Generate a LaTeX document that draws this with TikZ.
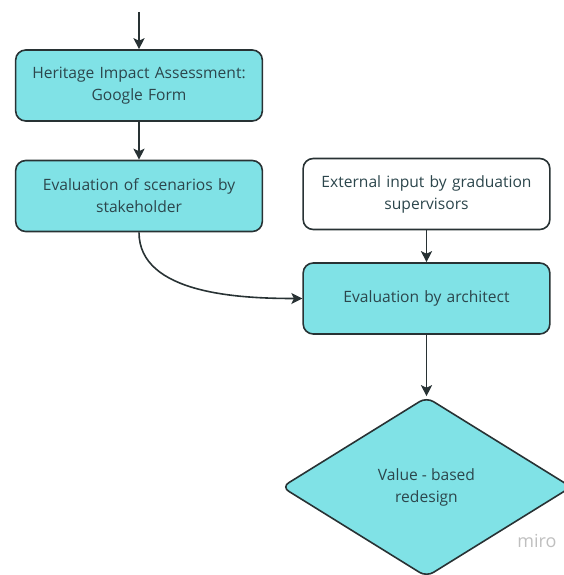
\documentclass[tikz,border=0pt]{standalone}
\usepackage{fontspec}
\setmainfont{Open Sans}
\usetikzlibrary{shapes.geometric,arrows.meta}
\definecolor{boxfill}{RGB}{128,226,230}
\definecolor{boxline}{RGB}{40,50,52}
\definecolor{boxtext}{RGB}{44,70,76}
\tikzset{
    flowbox/.style={draw=boxline, line width=1.6pt, rounded corners=10pt,
        minimum width=246pt, minimum height=71pt, text width=240pt, align=center,
        text=boxtext, font=\fontsize{15.6pt}{22pt}\selectfont},
    flowarrow/.style={draw=boxline, line width=1.6pt, -{Stealth[length=11pt,width=11pt,inset=2.5pt]}}
}
\begin{document}
\begin{tikzpicture}[x=1pt,y=-1pt]
    \useasboundingbox (0,0) rectangle (563,575);
    % left column
    \node[flowbox, fill=boxfill] (hia) at (139,85.5) {Heritage Impact Assessment:\\Google Form};
    \node[flowbox, fill=boxfill] (stake) at (139,196) {Evaluation of scenarios by\\stakeholder};
    % right column
    \node[flowbox, fill=white] (extern) at (426.5,194) {External input by graduation\\supervisors};
    \node[flowbox, fill=boxfill] (arch) at (426.5,298.5) {Evaluation by architect};
    \node[draw=boxline, line width=1.6pt, fill=boxfill, diamond, rounded corners=8pt,
        minimum width=290pt, minimum height=180pt, aspect=1.6, inner sep=0pt,
        align=center, text=boxtext, font=\fontsize{15.6pt}{22pt}\selectfont]
        (redesign) at (426.5,487) {Value - based\\redesign};
    \coordinate (top) at (139,12);
    \draw[flowarrow] (top) -- (hia);
    \draw[flowarrow] (hia) -- (stake);
    \draw[flowarrow] (extern) -- (arch);
    \draw[flowarrow] (stake.south) to[out=-90,in=180,looseness=0.9] (arch.west);
    \draw[flowarrow] (arch) -- (redesign.north);
    \node[text=gray!50, font=\fontsize{18pt}{18pt}\selectfont] (miro) at (537,541) {miro};
\end{tikzpicture}
\end{document}
